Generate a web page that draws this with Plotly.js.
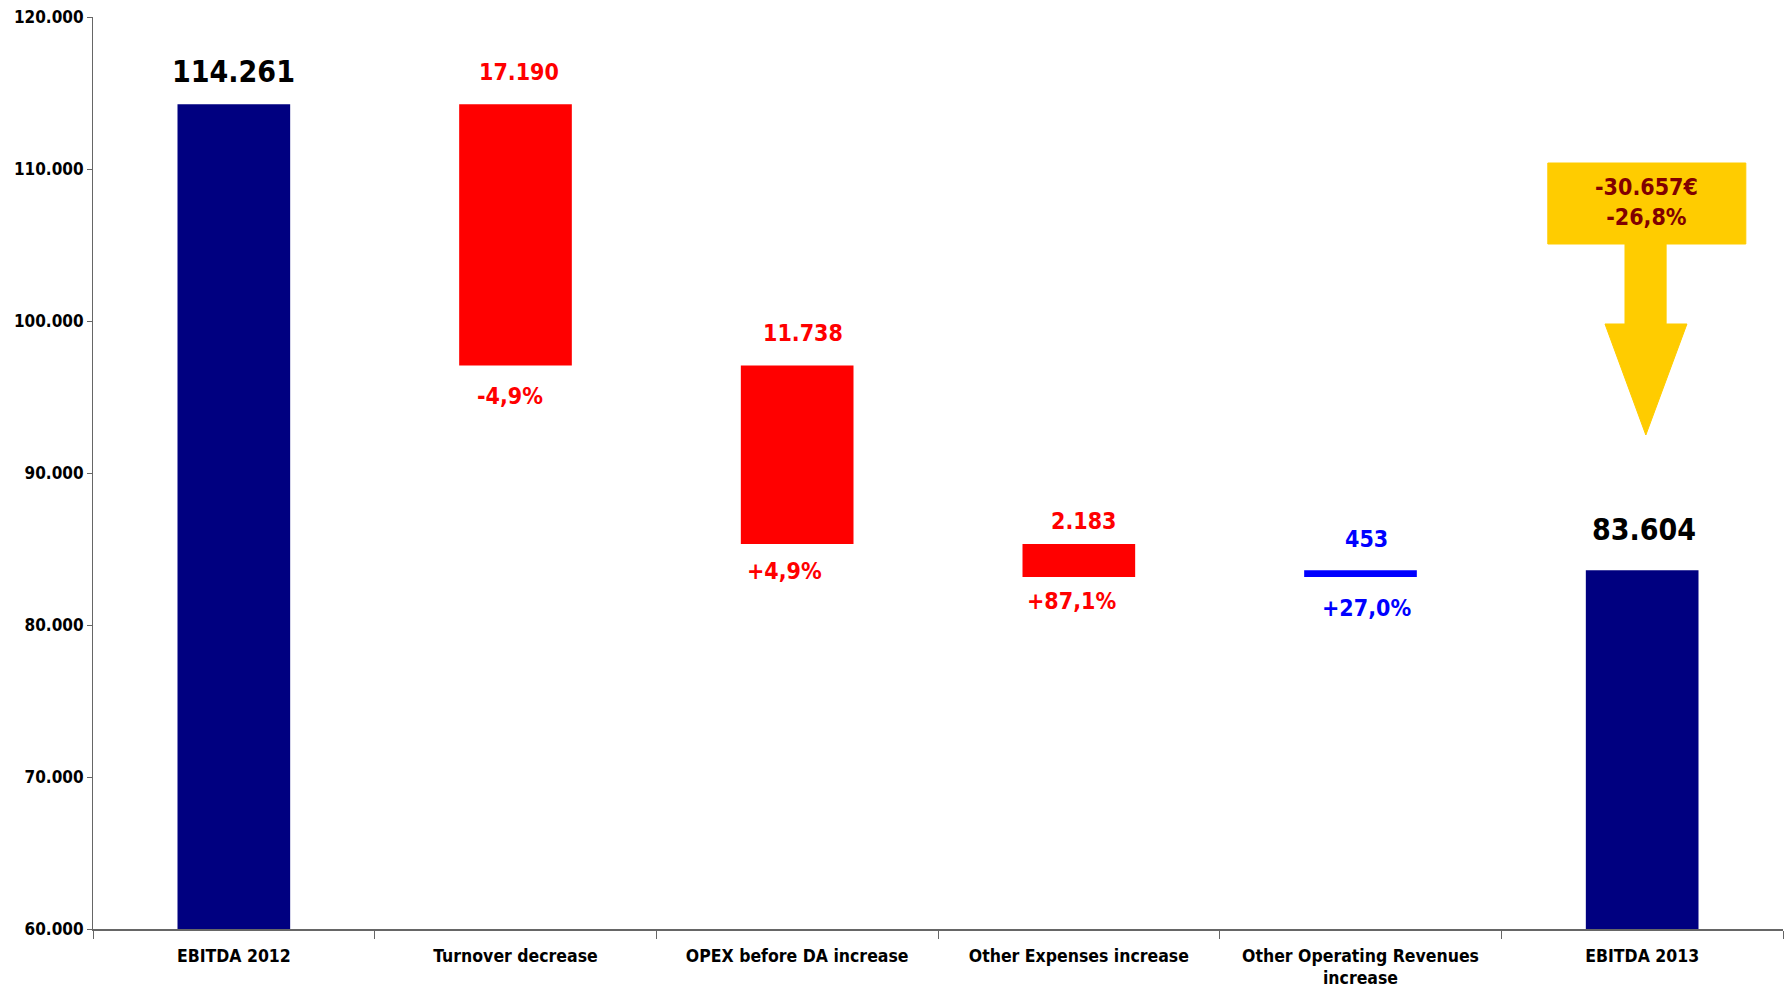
<!DOCTYPE html>
<html>
<head>
<meta charset="utf-8">
<script src="https://cdn.plot.ly/plotly-3.0.1.min.js"></script>
<style>html,body{margin:0;padding:0;background:#fff;}#chart{width:1788px;height:989px;}</style>
</head>
<body>
<div id="chart"></div>
<script>
// ---- data ----
var categories = ['EBITDA 2012', 'Turnover decrease', 'OPEX before DA increase', 'Other Expenses increase', 'Other Operating Revenues<br>increase', 'EBITDA 2013'];
var values = [114261, -17190, -11738, -2183, 453, 83604];
var kinds = ['total', 'delta', 'delta', 'delta', 'delta', 'total'];
var pctLabels = ['', '-4,9%', '+4,9%', '+87,1%', '+27,0%', ''];
var yTickRange = [60000, 120000];

// ---- layout-only styling (not data) ----
var FONT = 'DejaVu Sans Condensed, DejaVu Sans, sans-serif';
var topShift = [33, 32, 33, 23, 31, 41];
var topXShift = [0, 3, 6, 5, 6, 2];
var botShift = [0, 30, 27, 24, 31, 0];
var botXShift = [0, -6, -13, -7, 6, 0];

function fmt(v) {
  return Math.abs(Math.round(v)).toString().replace(/\B(?=(\d{3})+(?!\d))/g, '.');
}

var bases = [], heights = [], colors = [], labelColors = [], tops = [], bottoms = [];
var running = 0;
for (var i = 0; i < values.length; i++) {
  var v = values[i];
  if (kinds[i] === 'total') {
    bases.push(0); heights.push(v); running = v;
    colors.push('#000080'); labelColors.push('#000000');
    tops.push(v); bottoms.push(0);
  } else {
    var lo = Math.min(running, running + v), hi = Math.max(running, running + v);
    bases.push(lo); heights.push(hi - lo);
    colors.push(v < 0 ? '#FF0000' : '#0000FF');
    labelColors.push(v < 0 ? '#FF0000' : '#0000FF');
    tops.push(hi); bottoms.push(lo);
    running += v;
  }
}

var trace = {
  type: 'bar',
  x: categories,
  y: heights,
  base: bases,
  marker: {color: colors, line: {width: 0}},
  width: 0.4,
  hoverinfo: 'skip'
};

var annotations = [];
for (var j = 0; j < values.length; j++) {
  var isTotal = kinds[j] === 'total';
  annotations.push({
    x: categories[j], y: tops[j], xref: 'x', yref: 'y',
    text: fmt(values[j]), showarrow: false,
    xanchor: 'center', yanchor: 'middle',
    xshift: topXShift[j], yshift: topShift[j],
    font: {family: FONT, size: isTotal ? 30 : 23, color: labelColors[j], weight: 'bold'}
  });
  if (pctLabels[j]) {
    annotations.push({
      x: categories[j], y: bottoms[j], xref: 'x', yref: 'y',
      text: pctLabels[j], showarrow: false,
      xanchor: 'center', yanchor: 'middle',
      xshift: botXShift[j], yshift: -botShift[j],
      font: {family: FONT, size: 23, color: labelColors[j], weight: 'bold'}
    });
  }
}

// overall change box text (computed from data)
var first = values[0], last = values[values.length - 1];
var diff = last - first;
var pct = (diff / first * 100).toFixed(1).replace('.', ',');
annotations.push({
  x: 5.015, y: 107800, xref: 'x', yref: 'y',
  text: (diff < 0 ? '-' : '+') + fmt(diff) + '€<br>' + pct + '%',
  showarrow: false, xanchor: 'center', yanchor: 'middle',
  font: {family: FONT, size: 23, color: '#800000', weight: 'bold'}
});

var arrowPath = 'M 4.665,110395 L 5.368,110395 L 5.368,105066 L 5.085,105066 L 5.085,99803 ' +
  'L 5.159,99803 L 5.013,92500 L 4.868,99803 L 4.939,99803 L 4.939,105066 L 4.665,105066 Z';

var layout = {
  width: 1788, height: 989,
  margin: {l: 93, r: 5, t: 17, b: 60},
  paper_bgcolor: '#ffffff', plot_bgcolor: '#ffffff',
  separators: ',.',
  showlegend: false,
  bargap: 0.6,
  font: {family: FONT, color: '#000000'},
  xaxis: {
    type: 'category',
    range: [-0.5, 5.5],
    showline: true, linecolor: '#666666', linewidth: 1.5,
    ticks: 'outside', tickson: 'boundaries', ticklen: 8, tickcolor: '#666666', tickwidth: 1,
    ticklabelstandoff: 10,
    showgrid: false, zeroline: false,
    tickfont: {family: FONT, size: 17.5, color: '#000000', weight: 'bold'},
    fixedrange: true
  },
  yaxis: {
    range: yTickRange,
    dtick: 10000, tick0: 60000,
    tickformat: ',d',
    showline: true, linecolor: '#666666', linewidth: 1,
    ticks: 'outside', ticklen: 5, tickcolor: '#666666',
    showgrid: false, zeroline: false,
    tickfont: {family: FONT, size: 17, color: '#000000', weight: 'bold'},
    fixedrange: true
  },
  shapes: [{
    type: 'path', xref: 'x', yref: 'y', path: arrowPath,
    fillcolor: '#FFCC00', line: {color: '#FFCC00', width: 1}, layer: 'above'
  }],
  annotations: annotations
};

Plotly.newPlot('chart', [trace], layout, {displayModeBar: false, staticPlot: true});
</script>
</body>
</html>
